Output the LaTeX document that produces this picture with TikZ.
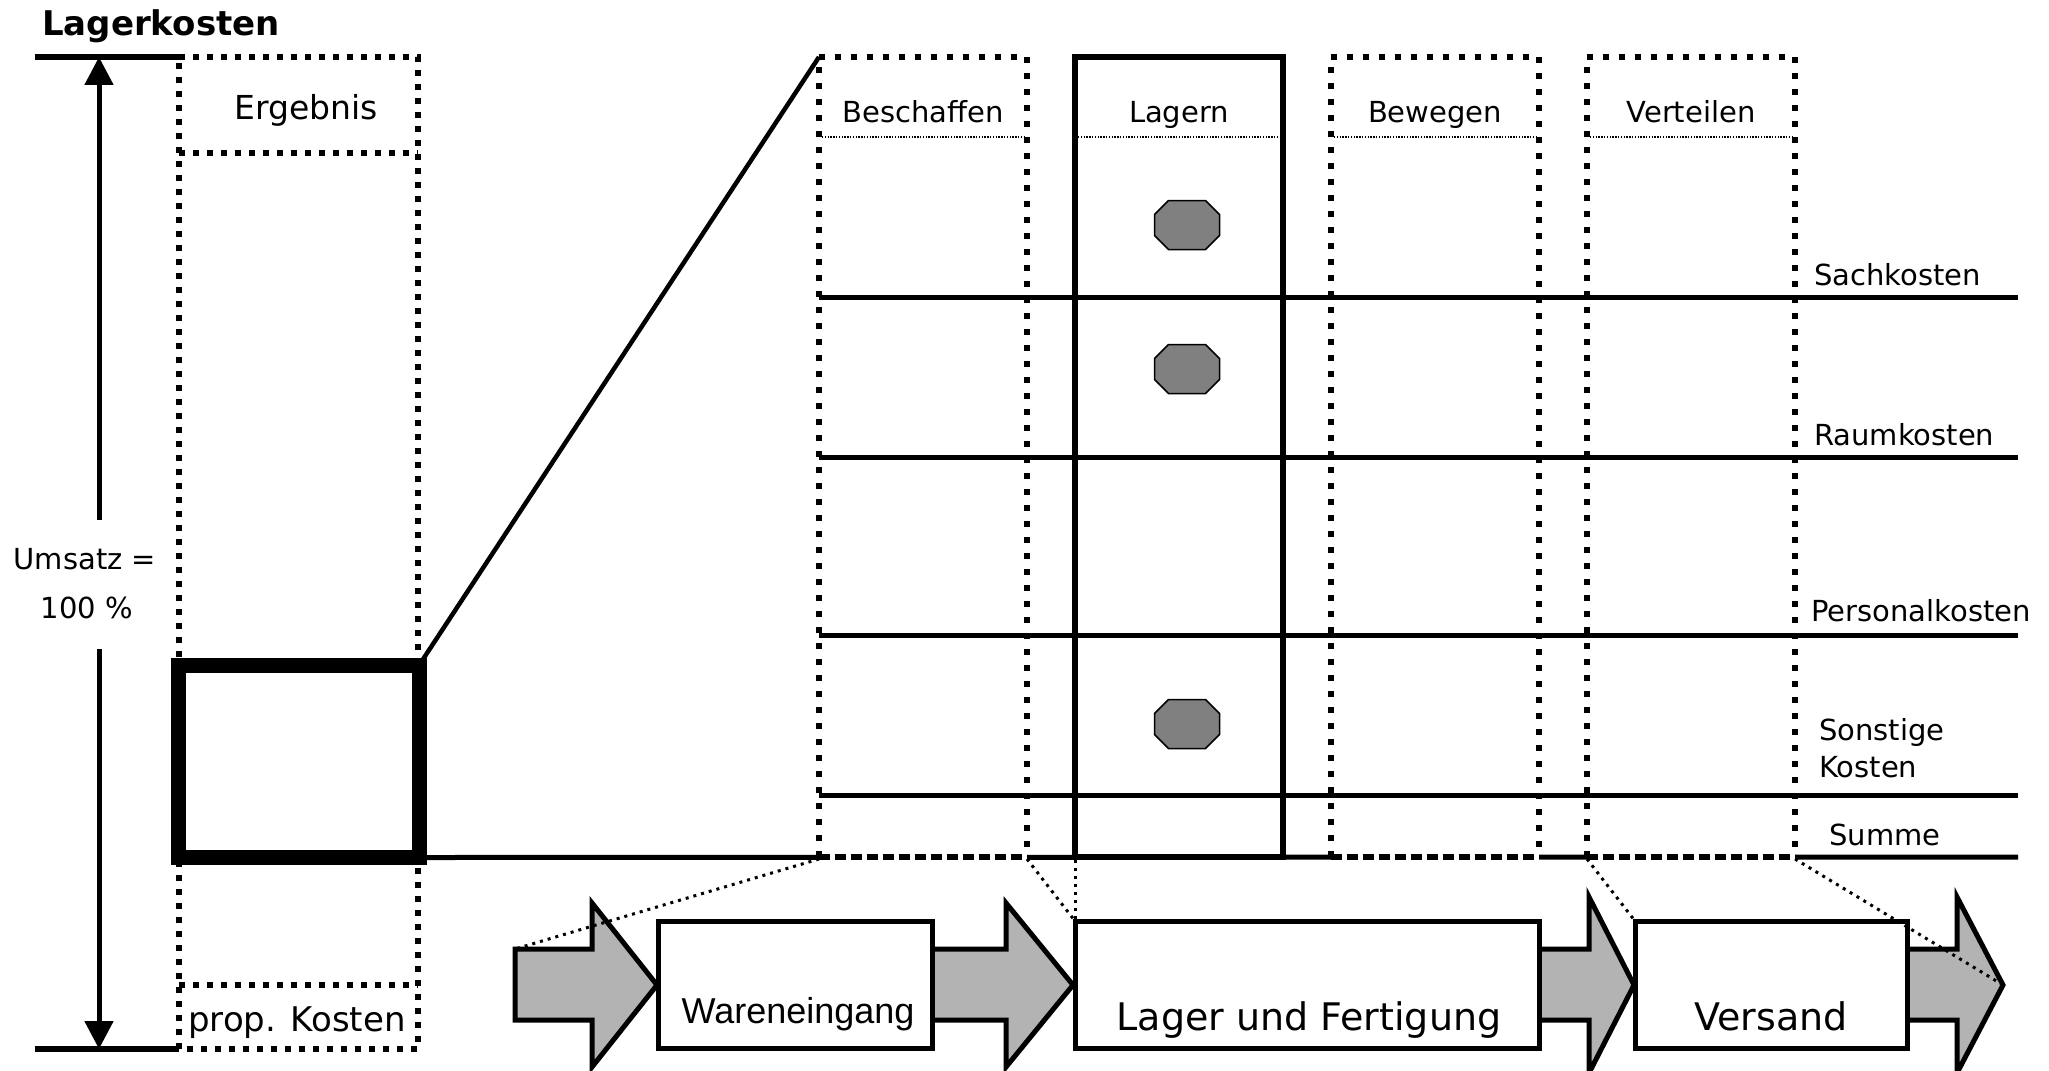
\documentclass[tikz,border=0pt]{standalone}
\usepackage{fontspec}
\setmainfont{DejaVu Sans}
\newfontfamily\arialfont{Liberation Sans}
\usetikzlibrary{arrows.meta,calc}
\definecolor{arrowgray}{HTML}{B3B3B3}
\definecolor{octgray}{HTML}{808080}
\newcommand{\fs}[1]{\fontsize{#1pt}{#1pt}\selectfont}
\begin{document}
\begin{tikzpicture}[x=1pt,y=-1pt,
  hline/.style={line width=5pt},
  leftdot/.style={line width=6pt, dash pattern=on 6pt off 8pt},
  coldot/.style={line width=6pt, dash pattern=on 6pt off 10pt},
  botdash/.style={line width=6pt, dash pattern=on 11pt off 5pt},
  hdrsep/.style={line width=1.4pt, dash pattern=on 1.4pt off 1.4pt},
  thindot/.style={line width=3pt, dash pattern=on 3pt off 5pt},
  flowbox/.style={draw, line width=5pt, fill=white, inner sep=0pt, outer sep=0pt},
  blockarrow/.style={draw, line width=5pt, fill=arrowgray, line join=miter},
  txt/.style={inner sep=0pt, anchor=base},
  lbl/.style={inner sep=0pt, anchor=base west, font=\fs{29}},
  octa/.pic={\draw[line width=1.5pt, fill=octgray] (-18.5,-24.5) -- (18.5,-24.5) -- (32.5,-10.5) -- (32.5,10.5) -- (18.5,24.5) -- (-18.5,24.5) -- (-32.5,10.5) -- (-32.5,-10.5) -- cycle;}
]
\useasboundingbox (0,0) rectangle (2049,1070);

% ---------- title ----------
\node[txt, anchor=base west] (title) at (42,36) {\fs{34}\bfseries Lagerkosten};

% ---------- left column ----------
\coordinate (topL) at (35,57);
\coordinate (botL) at (35,1049);
\coordinate (colTL) at (179,57);
\coordinate (colBL) at (179,1049);
\coordinate (colTR) at (418,57);
\coordinate (colBR) at (418,1049);
\draw[line width=6pt] (topL) -- (colTL);
\draw[line width=6pt] (botL) -- (colBL);
\draw[leftdot] (colTL) -- (colTR) -- (colBR) -- (colBL) -- cycle;
\draw[leftdot] (179,153) -- (418,153);
\draw[leftdot] (179,985) -- (418,985);
\node[txt] (ergebnis) at (306,120) {\fs{33}Ergebnis};
\node[txt] (prop) at (297,1031) {\fs{34}prop. Kosten};

% arrow Umsatz
\coordinate (arTop) at (99,57);
\coordinate (arUp) at (99,520);
\coordinate (arDn) at (99,649);
\coordinate (arBot) at (99,1049);
\draw[line width=5pt, -{Triangle[length=28pt,width=28pt]}] (arUp) -- (arTop);
\draw[line width=5pt, -{Triangle[length=28pt,width=28pt]}] (arDn) -- (arBot);
\node[txt] (umsatz) at (85,569) {\fs{29}Umsatz =};
\node[txt] (hundert) at (87,618) {\fs{29}100 \%};

% thick box
\node[draw, line width=15pt, minimum width=241pt, minimum height=192.5pt, inner sep=0pt, outer sep=0pt] (lagerbox) at (299,761.25) {};

% ---------- grid lines ----------
\foreach \yy in {297,457,635,795}{
  \draw[hline] (819,\yy) -- (2018,\yy);
}
\coordinate (sumR) at (2018,857);
\draw[hline] (lagerbox.south east) -- (sumR);

% zoom line
\coordinate (beschTL) at (819,57);
\draw[line width=4.5pt] ($(lagerbox.north east)+(3,-5)$) -- (beschTL);

% ---------- columns ----------
% Beschaffen
\draw[coldot] (819,857) -- (819,57) -- (1027,57) -- (1027,857);
\draw[white, line width=6pt] (819,857) -- (1027,857);
\draw[botdash] (819,857) -- (1027,857);
% Bewegen
\draw[coldot] (1331,857) -- (1331,57) -- (1539,57) -- (1539,857);
\draw[white, line width=6pt] (1331,857) -- (1539,857);
\draw[botdash] (1331,857) -- (1539,857);
% Verteilen
\draw[coldot] (1587,857) -- (1587,57) -- (1795,57) -- (1795,857);
\draw[white, line width=6pt] (1587,857) -- (1795,857);
\draw[botdash] (1587,857) -- (1795,857);
% Lagern
\draw[line width=6pt] (1075,57) rectangle (1283,857);

% header separators
\foreach \xa/\xb in {819/1027,1075/1283,1331/1539,1587/1795}{
  \draw[hdrsep] (\xa+3,137) -- (\xb-3,137);
}
\node[txt] (hBesch) at (923,123) {\fs{29}Beschaffen};
\node[txt] (hLag) at (1179,123) {\fs{29}Lagern};
\node[txt] (hBew) at (1435,123) {\fs{29}Bewegen};
\node[txt] (hVert) at (1691,123) {\fs{29}Verteilen};

% octagons
\pic at (1187,225) {octa};
\pic at (1187,369) {octa};
\pic at (1187,724) {octa};

% right labels
\node[lbl] (lSach) at (1814,285) {Sachkosten};
\node[lbl] (lRaum) at (1814,445) {Raumkosten};
\node[lbl] (lPers) at (1811,621) {Personalkosten};
\node[lbl] (lSon) at (1819,740) {Sonstige};
\node[lbl] (lKos) at (1819,777) {Kosten};
\node[lbl] (lSum) at (1829,845) {Summe};

% ---------- process flow ----------
\draw[blockarrow] (515,949) -- (592,949) -- (592,903) -- (657,985) -- (592,1067) -- (592,1020) -- (515,1020) -- cycle;
\draw[blockarrow] (932,949) -- (1006,949) -- (1006,903) -- (1073,985) -- (1006,1067) -- (1006,1020) -- (932,1020) -- cycle;
\draw[blockarrow] (1539,949) -- (1589,949) -- (1589,897) -- (1634,985) -- (1589,1073) -- (1589,1020) -- (1539,1020) -- cycle;
\draw[blockarrow] (1907,949) -- (1957,949) -- (1957,897) -- (2003,985) -- (1957,1073) -- (1957,1020) -- (1907,1020) -- cycle;
\coordinate (a1tl) at (515,949);
\coordinate (a4tip) at (2003,985);

\node[flowbox, minimum width=274pt, minimum height=127pt] (we) at (795,984.5) {};
\node[flowbox, minimum width=464pt, minimum height=127pt] (luf) at (1307,984.5) {};
\node[flowbox, minimum width=272pt, minimum height=127pt] (vers) at (1771,984.5) {};
\node[txt] (tWe) at (798,1023) {\arialfont\fs{36}Wareneingang};
\node[txt] (tLuf) at (1309,1030) {\fs{38}Lager und Fertigung};
\node[txt] (tVers) at (1771,1030) {\fs{38}Versand};

% dotted connectors
\coordinate (beschBL) at (819,859);
\coordinate (beschBR) at (1027,859);
\coordinate (lagBL) at (1075,860);
\coordinate (vertBL) at (1587,859);
\coordinate (vertBR) at (1795,859);
\draw[thindot] (beschBL) -- (a1tl);
\draw[thindot] (beschBR) -- (luf.north west);
\draw[thindot] (lagBL) -- (luf.north west);
\draw[thindot] (vertBL) -- (vers.north west);
\draw[thindot] (vertBR) -- (a4tip);
\end{tikzpicture}
\end{document}
